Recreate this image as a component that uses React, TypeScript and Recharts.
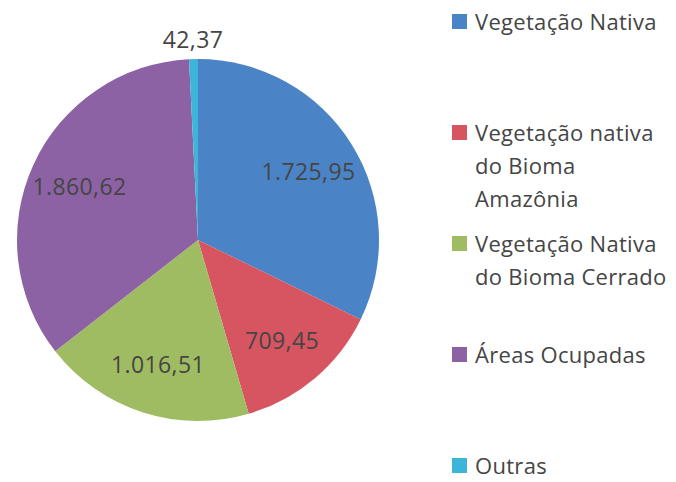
import { PieChart, Pie, Cell, Legend } from "recharts"

const categories = [
  "Vegetação Nativa",
  "Vegetação nativa\ndo Bioma\nAmazônia",
  "Vegetação Nativa\ndo Bioma Cerrado",
  "Áreas Ocupadas",
  "Outras",
]
const values = [1725.95, 709.45, 1016.51, 1860.62, 42.37]
const colors = ["#4A84C6", "#D65560", "#A0BC62", "#8C62A4", "#3DB5D8"]

const FONT = "'Open Sans', Lato, sans-serif"
const TEXT = "#454545"

function fmt(v: number) {
  const [int, dec] = v.toFixed(2).split(".")
  return int.replace(/\B(?=(\d{3})+(?!\d))/g, ".") + "," + dec
}

const data = categories.map((name, i) => ({ name, value: values[i] }))

const RAD = Math.PI / 180

function SliceLabel(props: any) {
  const { cx, cy, midAngle, outerRadius, percent, value } = props
  const r = percent < 0.03 ? outerRadius + 20 : outerRadius * 0.72
  const x = cx + r * Math.cos(-midAngle * RAD)
  const y = cy + r * Math.sin(-midAngle * RAD)
  return (
    <text x={x} y={y} fill={TEXT} fontSize={23} fontFamily={FONT} letterSpacing={0.4}
      textAnchor="middle" dominantBaseline="central">
      {fmt(value)}
    </text>
  )
}

function LegendBox({ payload }: any) {
  return (
    <div style={{ fontFamily: FONT, fontSize: 22, letterSpacing: 0.3, color: TEXT, lineHeight: "33px" }}>
      {(payload ?? []).map((p: any, i: number) => (
        <div key={i} style={{ height: 111, display: "flex", alignItems: "flex-start" }}>
          <span style={{
            display: "inline-block", width: 15, height: 15, marginTop: 9,
            marginRight: 8, backgroundColor: colors[i], flexShrink: 0,
          }} />
          <span style={{ whiteSpace: "pre" }}>{categories[i]}</span>
        </div>
      ))}
    </div>
  )
}

export default function App() {
  return (
    <div style={{ position: "absolute", left: 0, top: 0, width: 676, height: 482, background: "#fff", overflow: "hidden" }}>
      <PieChart width={676} height={482} margin={{ top: 0, right: 0, bottom: 0, left: 0 }}>
        <Pie
          data={data}
          dataKey="value"
          nameKey="name"
          cx={198}
          cy={240}
          outerRadius={181}
          startAngle={90}
          endAngle={-270}
          stroke="none"
          label={SliceLabel}
          labelLine={false}
          isAnimationActive={false}
        >
          {data.map((_, i) => (
            <Cell key={i} fill={colors[i]} />
          ))}
        </Pie>
        <Legend
          layout="vertical"
          align="right"
          verticalAlign="top"
          content={<LegendBox />}
          wrapperStyle={{ top: 5, left: 452, width: 224 }}
        />
      </PieChart>
    </div>
  )
}
